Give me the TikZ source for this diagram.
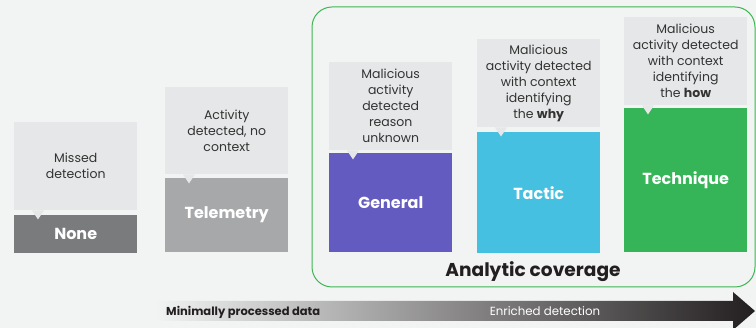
\documentclass[tikz,border=0pt]{standalone}
\usepackage{fontspec}
\setmainfont{Poppins}
\usetikzlibrary{positioning,calc}
\definecolor{bgray}{RGB}{242,243,243}
\definecolor{cgray}{RGB}{230,231,232}
\definecolor{tdark}{RGB}{51,51,51}
\definecolor{cnone}{RGB}{122,123,125}
\definecolor{ctele}{RGB}{167,168,170}
\definecolor{cgen}{RGB}{99,91,192}
\definecolor{ctac}{RGB}{69,192,224}
\definecolor{ctech}{RGB}{54,180,88}
\definecolor{cframe}{RGB}{62,182,84}
\definecolor{adark}{RGB}{35,31,32}
\tikzset{
  note/.style  ={rectangle, fill=cgray, align=center, minimum width=123pt,
                 inner sep=0pt, anchor=north west, text=tdark,
                 font=\fontsize{12.5}{16}\selectfont},
  level/.style ={rectangle, align=center, minimum width=123pt, inner sep=0pt,
                 anchor=north west, text=white,
                 font=\fontsize{16}{18}\selectfont\bfseries},
  lbl/.style   ={inner sep=0pt, font=\fontsize{11.8}{14}\selectfont}
}

\begin{document}
\begin{tikzpicture}[x=1pt, y=-1pt]
\useasboundingbox (0,0) rectangle (756,328);
\fill[bgray] (0,0) rectangle (756,328);
% coverage frame
\draw[cframe, line width=1pt, rounded corners=20pt] (312,7) rectangle (755,287);
\node[font=\fontsize{18.6}{20}\selectfont\bfseries, text=adark] (cov) at (533,272) {Analytic coverage};
% levels
\node[note, minimum height=88pt] (nonenote) at (14,122) {Missed\\detection};
\node[level, fill=cnone, minimum height=38pt] (none) at (14,215) {None};
\node[note, minimum height=87pt] (telenote) at (165,87) {Activity\\detected, no\\context};
\node[level, fill=ctele, minimum height=74pt] (tele) at (165,178) {Telemetry};
\node[note, minimum height=88pt] (gennote) at (329,62)
  {Malicious\\activity\\detected\\reason\\unknown};
\node[level, fill=cgen, minimum height=99pt] (gen) at (329,153) {General};
\node[note, minimum height=88pt] (tacnote) at (477,39)
  {Malicious\\activity detected\\with context\\identifying\\the \textbf{why}};
\node[level, fill=ctac, minimum height=121pt] (tac) at (477,132) {Tactic};
\node[note, minimum height=88pt] (technote) at (624,17)
  {Malicious\\activity detected\\with context\\identifying\\the \textbf{how}};
\node[level, fill=ctech, minimum height=144pt] (tech) at (624,108) {Technique};
% pointers
\foreach \n in {none,tele,gen,tac,tech}
  \fill[cgray] ($(\n note.south west)+(18,0)$) -- ++(12,0) -- ++(-6,9) -- cycle;
% enrichment arrow
\shade[left color=bgray, right color=adark]
  (155,301) -- (733,301) -- (733,292) -- (755,311) -- (733,330) -- (733,321) -- (155,321) -- cycle;
\node[lbl, anchor=west, text=adark, font=\fontsize{11.5}{14}\selectfont\bfseries] (rawlbl) at (166,312) {Minimally processed data};
\node[lbl, text=white] (richlbl) at (545,311) {Enriched detection};
\end{tikzpicture}
\end{document}
